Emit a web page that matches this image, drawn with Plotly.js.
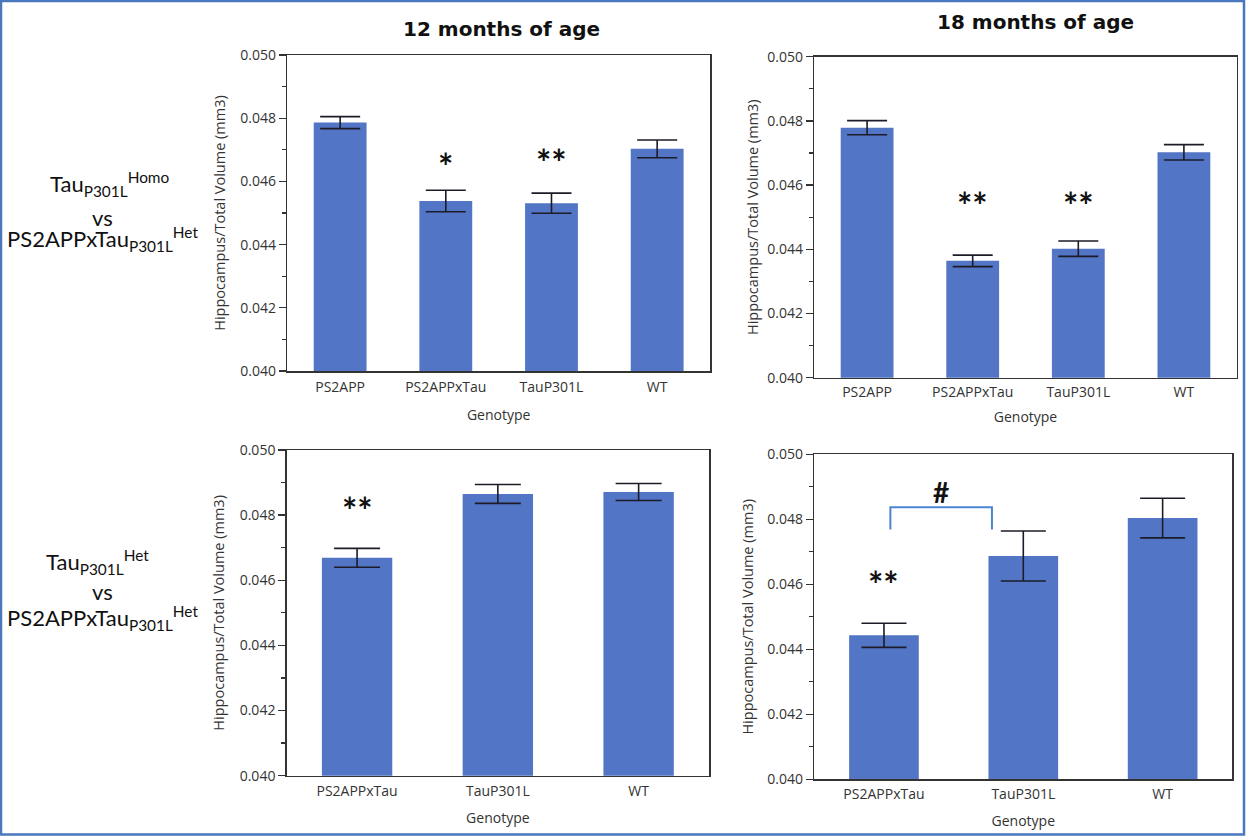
<!DOCTYPE html>
<html>
<head>
<meta charset="utf-8">
<script src="https://cdn.plot.ly/plotly-3.0.1.min.js"></script>
<style>
  html, body { margin: 0; padding: 0; background: #ffffff; }
  #chart { width: 1248px; height: 836px; }
</style>
</head>
<body>
<div id="chart"></div>
<script>
// ---------------- data ----------------
const cats4 = ['PS2APP', 'PS2APPxTau', 'TauP301L', 'WT'];
const cats3 = ['PS2APPxTau', 'TauP301L', 'WT'];

// Top row: TauP301L Homo vs PS2APPxTauP301L Het
const homo12 = [0.04786, 0.04538, 0.04531, 0.04703];
const homo12Err = [0.00019, 0.00034, 0.00032, 0.00028];
const homo18 = [0.04779, 0.04364, 0.04402, 0.04702];
const homo18Err = [0.00022, 0.00018, 0.00024, 0.00024];

// Bottom row: TauP301L Het vs PS2APPxTauP301L Het
const het12 = [0.04669, 0.04865, 0.04871];
const het12Err = [0.00029, 0.00029, 0.00026];
const het18 = [0.04443, 0.04687, 0.04804];
const het18Err = [0.00037, 0.00077, 0.00061];

const yTickVals = [0.040, 0.042, 0.044, 0.046, 0.048, 0.050];
const yTickText = ['0.040', '0.042', '0.044', '0.046', '0.048', '0.050'];

const panelTitles = ['12 months of age', '18 months of age'];
const yTitle = 'Hippocampus/Total Volume (mm3)';
const xTitle = 'Genotype';

// significance marks: [axis suffix, category, text, y]
const sigMarks = [
  ['', 'PS2APPxTau', '*', 0.04674],
  ['', 'TauP301L', '**', 0.04687],
  ['2', 'PS2APPxTau', '**', 0.04564],
  ['2', 'TauP301L', '**', 0.04564],
  ['3', 'PS2APPxTau', '**', 0.04841],
  ['4', 'PS2APPxTau', '**', 0.04626],
  ['4', 0.41, '#', 0.04885]
];
// bracket in bottom-right panel: [x start, x end, y top, y leg end] (category units / data units)
const bracket = [0.046, 0.775, 0.04837, 0.04769];

// ---------------- style ----------------
const W = 1248, H = 836;
const px = x => x / W;
const py = y => 1 - y / H;
const barColor = '#5275c5';
const errColor = '#1c1c28';
const lineColor = '#333333';
const textColor = '#333333';
const tickFont = { family: 'Open Sans, sans-serif', size: 14, color: textColor };

function barTrace(x, y, err, ax, capW) {
  return {
    type: 'bar', x: x, y: y,
    xaxis: 'x' + ax, yaxis: 'y' + ax,
    marker: { color: barColor, line: { width: 0 } },
    error_y: { type: 'data', array: err, visible: true, color: errColor, thickness: 1.6, width: capW },
    hoverinfo: 'skip', showlegend: false
  };
}

const data = [
  barTrace(cats4, homo12, homo12Err, '', 20),
  barTrace(cats4, homo18, homo18Err, '2', 20),
  barTrace(cats3, het12, het12Err, '3', 23),
  barTrace(cats3, het18, het18Err, '4', 22.5)
];

function xAxis(domain, anchor, n, labelPad, standoff) {
  return {
    domain: domain, anchor: anchor, type: 'category',
    range: [-0.5, n - 0.5],
    showline: true, mirror: true, linecolor: lineColor, linewidth: 1.5,
    ticks: 'outside', ticklen: labelPad, tickcolor: 'rgba(0,0,0,0)',
    showgrid: false, zeroline: false, fixedrange: true,
    tickfont: tickFont,
    title: { text: xTitle, font: tickFont, standoff: standoff }
  };
}
function yAxis(domain, anchor, standoff) {
  return {
    domain: domain, anchor: anchor,
    range: [0.040, 0.050],
    tickvals: yTickVals, ticktext: yTickText,
    ticks: 'outside', ticklen: 7, tickwidth: 1.3, tickcolor: lineColor,
    minor: { dtick: 0.001, tick0: 0.040, ticks: 'outside', ticklen: 4, tickwidth: 1.3, tickcolor: lineColor },
    showline: true, mirror: true, linecolor: lineColor, linewidth: 1.5,
    showgrid: false, zeroline: false, fixedrange: true,
    tickfont: tickFont,
    title: { text: yTitle, font: { family: 'Open Sans, sans-serif', size: 14.5, color: textColor }, standoff: standoff }
  };
}

const annotations = [];
// column titles
const titleFont = { family: 'DejaVu Sans, sans-serif', size: 20, color: '#111', weight: 700 };
annotations.push({ xref: 'paper', yref: 'paper', x: px(501.5), y: py(29), text: '<b>' + panelTitles[0] + '</b>',
  showarrow: false, xanchor: 'center', yanchor: 'middle', font: titleFont });
annotations.push({ xref: 'paper', yref: 'paper', x: px(1035), y: py(22.5), text: '<b>' + panelTitles[1] + '</b>',
  showarrow: false, xanchor: 'center', yanchor: 'middle', font: titleFont });

// row labels
const rowFont = { family: 'Lato, sans-serif', size: 22, color: '#111' };
const rowLabels = [
  ['Tau<sub>P301L</sub><sup>Homo</sup>', 110, 184],
  ['vs', 102, 217],
  ['PS2APPxTau<sub>P301L</sub><sup>Het</sup>', 102.5, 239],
  ['Tau<sub>P301L</sub><sup>Het</sup>', 97.5, 562],
  ['vs', 102, 591],
  ['PS2APPxTau<sub>P301L</sub><sup>Het</sup>', 102.5, 618]
];
rowLabels.forEach(r => annotations.push({ xref: 'paper', yref: 'paper', x: px(r[1]), y: py(r[2]), text: r[0],
  showarrow: false, xanchor: 'center', yanchor: 'middle', font: rowFont }));

// significance marks
sigMarks.forEach(m => annotations.push({ xref: 'x' + m[0], yref: 'y' + m[0], x: m[1], y: m[3], text: '<b>' + m[2] + '</b>',
  showarrow: false, xanchor: 'center', yanchor: 'middle', yshift: m[2] === '#' ? 0 : -8,
  font: { family: 'Lato, sans-serif', size: m[2] === '#' ? 28 : 36, color: '#111' } }));

const shapes = [
  { type: 'path', xref: 'x4', yref: 'y4',
    path: 'M ' + bracket[0] + ' ' + bracket[3] + ' L ' + bracket[0] + ' ' + bracket[2] + ' L ' + bracket[1] + ' ' + bracket[2] + ' L ' + bracket[1] + ' ' + bracket[3],
    line: { color: '#4a85d1', width: 2 } },
  { type: 'rect', xref: 'paper', yref: 'paper', x0: px(1), x1: px(1244), y0: py(834.5), y1: py(1),
    line: { color: '#4a78bd', width: 2.5 }, fillcolor: 'rgba(0,0,0,0)' }
];

const layout = {
  width: W, height: H,
  margin: { l: 0, r: 0, t: 0, b: 0 },
  paper_bgcolor: '#ffffff', plot_bgcolor: '#ffffff',
  bargap: 0.5, showlegend: false,
  font: { family: 'Open Sans, sans-serif', color: textColor },
  xaxis: xAxis([px(287.3), px(710)], 'y', 4, 3, 15),
  yaxis: yAxis([py(371), py(55)], 'x', 11),
  xaxis2: xAxis([px(814.3), px(1236.7)], 'y2', 4, 1, 12),
  yaxis2: yAxis([py(377.7), py(56.7)], 'x2', 5),
  xaxis3: xAxis([px(286.7), px(709)], 'y3', 3, 2, 14),
  yaxis3: yAxis([py(775.7), py(450)], 'x3', 11),
  xaxis4: xAxis([px(814.3), px(1232.3)], 'y4', 3, 1, 14),
  yaxis4: yAxis([py(779.3), py(454.3)], 'x4', 10),
  annotations: annotations,
  shapes: shapes
};

Plotly.newPlot('chart', data, layout, { displayModeBar: false, staticPlot: true });
</script>
</body>
</html>
